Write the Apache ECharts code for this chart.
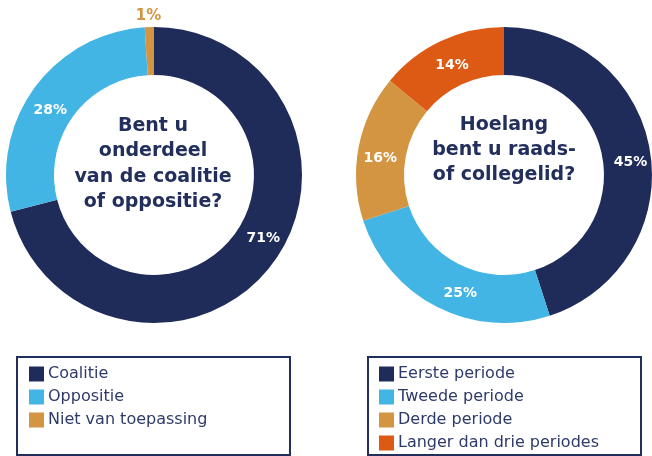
<!DOCTYPE html>
<html>
<head>
<meta charset="utf-8">
<script src="https://cdn.jsdelivr.net/npm/echarts@6/dist/echarts.min.js"></script>
<style>
  html, body { margin: 0; padding: 0; background: #fff; }
  #main { width: 652px; height: 456px; }
</style>
</head>
<body>
<div id="main"></div>
<script>
// linker donut: coalitie / oppositie
var rolNamen = ['Coalitie', 'Oppositie', 'Niet van toepassing'];
var rolWaarden = [71, 28, 1];
// rechter donut: zittingsduur
var periodeNamen = ['Eerste periode', 'Tweede periode', 'Derde periode', 'Langer dan drie periodes'];
var periodeWaarden = [45, 25, 16, 14];

var kleuren = ['#1f2c5a', '#42b5e5', '#d49543', '#dc5a14'];
var navy = '#222e5c';
var font = 'DejaVu Sans';

// kleine verschuivingen van de percentagelabels (zoals in het origineel)
var rolLabelOffset = [[9, -14], [-1, 10], [17, -7]];
var periodeLabelOffset = [[1, 7], [14, 5], [1, 7], [2, 5]];

var dom = document.getElementById('main');
var myChart = echarts.init(dom);

function maakData(namen, waarden, offsets) {
    return namen.map(function (n, i) {
        var d = {
            name: n, value: waarden[i],
            itemStyle: { color: kleuren[i] },
            label: { offset: offsets[i] }
        };
        if (waarden[i] < 5) {
            d.label.position = 'outside';
            d.label.color = kleuren[i];
            d.label.fontSize = 15;
            d.labelLine = { show: false, length: 4, length2: 0 };
        }
        return d;
    });
}

function donut(center, data) {
    return {
        type: 'pie',
        center: center,
        radius: [100, 148],
        startAngle: 90,
        clockwise: true,
        avoidLabelOverlap: false,
        silent: true,
        label: {
            show: true,
            position: 'inside',
            formatter: '{c}%',
            color: '#fff',
            fontFamily: font,
            fontWeight: 'bold',
            fontSize: 14
        },
        labelLine: { show: false },
        data: data
    };
}

var legendStijl = {
    orient: 'vertical',
    itemWidth: 15,
    itemHeight: 15,
    itemGap: 7,
    padding: 0,
    icon: 'rect',
    selectedMode: false,
    textStyle: { color: '#2e3a6a', fontFamily: font, fontSize: 16, padding: [0, 0, 0, -1] }
};

var option = {
    animation: false,
    title: [
        {
            text: 'Bent u\nonderdeel\nvan de coalitie\nof oppositie?',
            left: 153, top: 113,
            padding: 0,
            textAlign: 'center',
            textStyle: { color: navy, fontFamily: font, fontWeight: 'bold', fontSize: 19, lineHeight: 25.5 }
        },
        {
            text: 'Hoelang\nbent u raads-\nof collegelid?',
            left: 504, top: 113,
            padding: 0,
            textAlign: 'center',
            textStyle: { color: navy, fontFamily: font, fontWeight: 'bold', fontSize: 19, lineHeight: 25 }
        }
    ],
    legend: [
        Object.assign({ left: 29, top: 366, data: rolNamen }, legendStijl),
        Object.assign({ left: 379, top: 366, data: periodeNamen }, legendStijl)
    ],
    graphic: [
        { type: 'rect', shape: { x: 17, y: 357, width: 273, height: 98 },
          style: { fill: 'none', stroke: navy, lineWidth: 2 }, z: -1 },
        { type: 'rect', shape: { x: 368, y: 357, width: 273, height: 98 },
          style: { fill: 'none', stroke: navy, lineWidth: 2 }, z: -1 }
    ],
    series: [
        donut([154, 175], maakData(rolNamen, rolWaarden, rolLabelOffset)),
        donut([504, 175], maakData(periodeNamen, periodeWaarden, periodeLabelOffset))
    ]
};

myChart.setOption(option, true);
</script>
</body>
</html>
